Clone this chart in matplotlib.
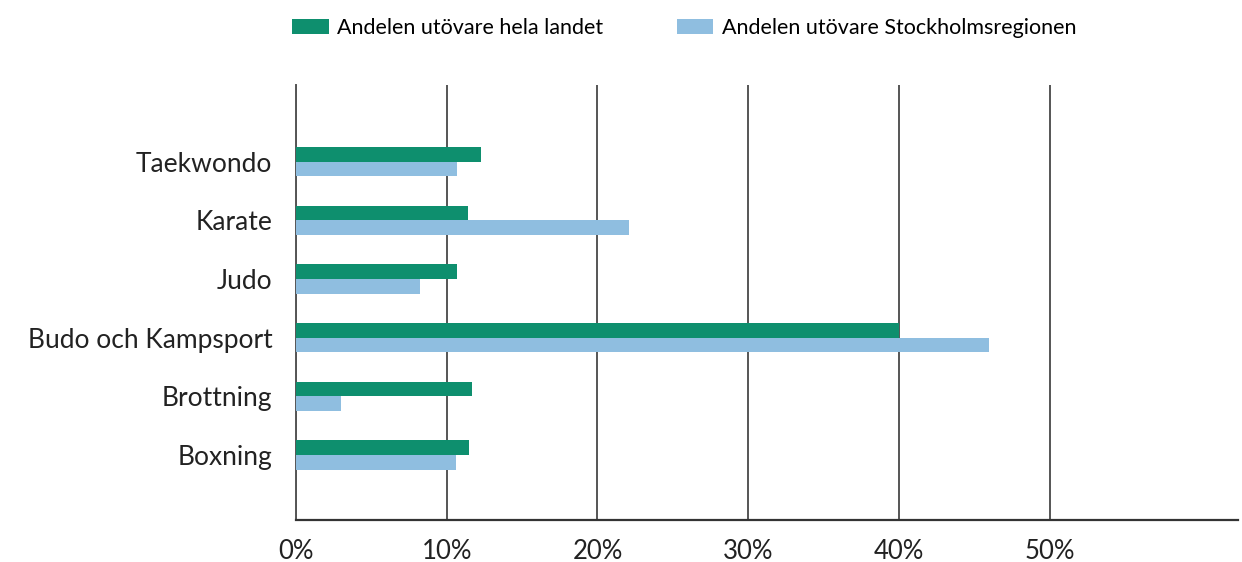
import matplotlib.pyplot as plt
import numpy as np

plt.rcParams['font.family'] = ['Lato', 'DejaVu Sans']

# sports, bottom to top
sports = ["Boxning", "Brottning", "Budo och Kampsport", "Judo", "Karate", "Taekwondo"]
hela_landet = [11.5, 11.7, 40.0, 10.7, 11.4, 12.3]
stockholm = [10.6, 3.0, 46.0, 8.2, 22.1, 10.7]
xticks = [0, 10, 20, 30, 40, 50]
xticklabels = ["0%", "10%", "20%", "30%", "40%", "50%"]

green = "#0e8f6e"
blue = "#8fbee0"

fig = plt.figure(figsize=(12.42, 5.62), dpi=100)
ax = fig.add_axes([296/1242, 42/562, (1238-296)/1242, (520-85)/562])

y = np.arange(len(sports))
h = 0.25
ax.barh(y + h/2, hela_landet, height=h, color=green, label="Andelen utövare hela landet", zorder=3)
ax.barh(y - h/2, stockholm, height=h, color=blue, label="Andelen utövare Stockholmsregionen", zorder=3)

ax.set_xlim(0, 62.5)
ax.set_ylim(-1.11, 6.31)
ax.set_yticks(y)
ax.set_yticklabels(sports, fontsize=19, color="#222222")
ax.set_xticks(xticks)
ax.set_xticklabels(xticklabels, fontsize=18.5, color="#222222")
ax.tick_params(axis='y', length=0, pad=17)
ax.tick_params(axis='x', length=0, pad=14)

ax.grid(axis='x', color="#555555", linewidth=1.4, zorder=0)
for s in ['top', 'right']:
    ax.spines[s].set_visible(False)
ax.spines['left'].set_color("#555555")
ax.spines['left'].set_linewidth(1.4)
ax.spines['bottom'].set_color("#333333")
ax.spines['bottom'].set_linewidth(1.6)

fig.legend(loc='upper left', bbox_to_anchor=(277/1242, 0.995), ncol=2, frameon=False,
           fontsize=15.5, handlelength=1.7, handleheight=0.7, handletextpad=0.4,
           columnspacing=3.4, borderaxespad=0.3)

fig.savefig("out.png", dpi=100)
